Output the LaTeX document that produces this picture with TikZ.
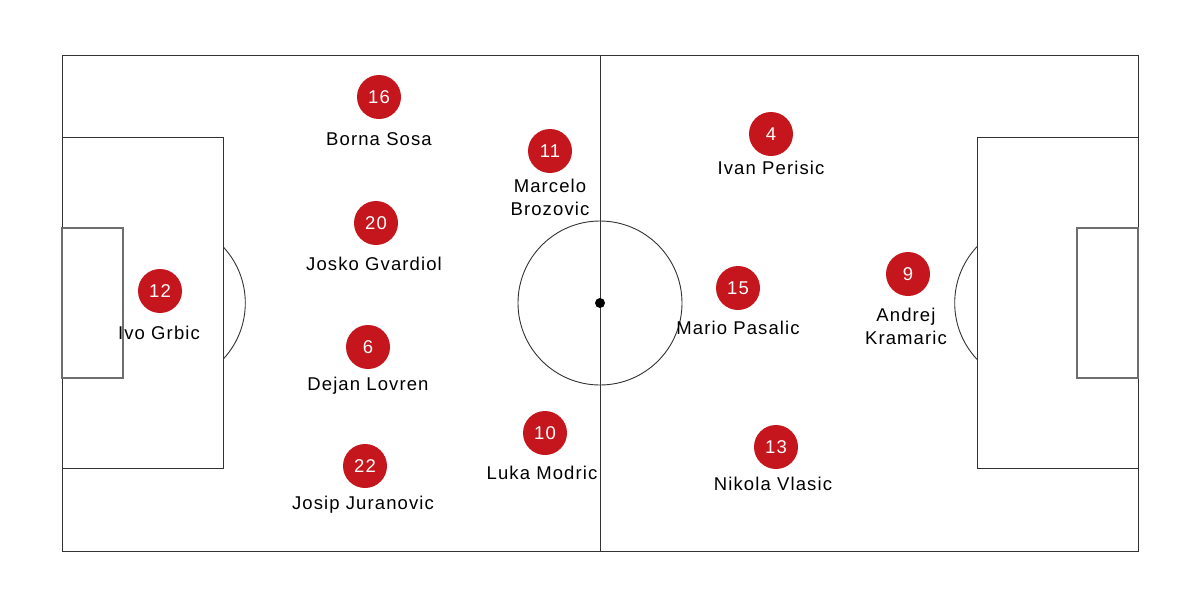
\documentclass[tikz,border=0pt]{standalone}
\usepackage{fontspec}
\setmainfont{Liberation Sans}[LetterSpace=6]
\definecolor{plred}{HTML}{C4161C}
\definecolor{pline}{HTML}{333333}
\definecolor{gline}{HTML}{6E6E6E}
\tikzset{
  pitch/.style={draw=pline, line width=0.9pt},
  gbox/.style={draw=gline, line width=1.1pt},
  player/.style={circle, fill=plred, minimum size=44pt, inner sep=0pt, text=white, font=\fontsize{18.5}{18.5}\selectfont},
  pname/.style={font=\fontsize{18.5}{23}\selectfont, align=center, inner sep=0pt}
}
\begin{document}
\begin{tikzpicture}[x=1pt,y=-1pt]
\useasboundingbox[fill=white] (0,0) rectangle (1200,600);
% pitch
\draw[pitch] (62,55) rectangle (1138,551);
\draw[pitch] (600,55) -- (600,551);
\draw[pitch] (600,303) circle (82);
\fill[black] (600,303) circle (5);
% left
\draw[pitch] (62,137) rectangle (223,468);
\draw[gbox] (62,228) rectangle (123,378);
\begin{scope}
\clip (223,0) rectangle (400,600);
\draw[pitch] (163,303) circle (82.3);
\end{scope}
% right
\draw[pitch] (977,137) rectangle (1138,468);
\draw[gbox] (1077,228) rectangle (1138,378);
\begin{scope}
\clip (800,0) rectangle (977,600);
\draw[pitch] (1037,303) circle (82.3);
\end{scope}
% players
\node[player] (p16) at (379,97) {16};
\node[pname] (n16) at (379,139) {Borna Sosa};
\node[player] (p11) at (550,151) {11};
\node[pname] (n11) at (550,197.5) {Marcelo\\Brozovic};
\node[player] (p4) at (771,134) {4};
\node[pname] (n4) at (771,168) {Ivan Perisic};
\node[player] (p20) at (376,223) {20};
\node[pname] (n20) at (374,264) {Josko Gvardiol};
\node[player] (p12) at (160,291) {12};
\node[pname] (n12) at (159,333) {Ivo Grbic};
\node[player] (p15) at (738,288) {15};
\node[pname] (n15) at (738,328) {Mario Pasalic};
\node[player] (p9) at (908,274) {9};
\node[pname] (n9) at (906,326.5) {Andrej\\Kramaric};
\node[player] (p6) at (368,347) {6};
\node[pname] (n6) at (368,386) {Dejan Lovren};
\node[player] (p10) at (545,433) {10};
\node[pname] (n10) at (542,473) {Luka Modric};
\node[player] (p22) at (365,466) {22};
\node[pname] (n22) at (363,505) {Josip Juranovic};
\node[player] (p13) at (776,447) {13};
\node[pname] (n13) at (773,484) {Nikola Vlasic};
\end{tikzpicture}
\end{document}
